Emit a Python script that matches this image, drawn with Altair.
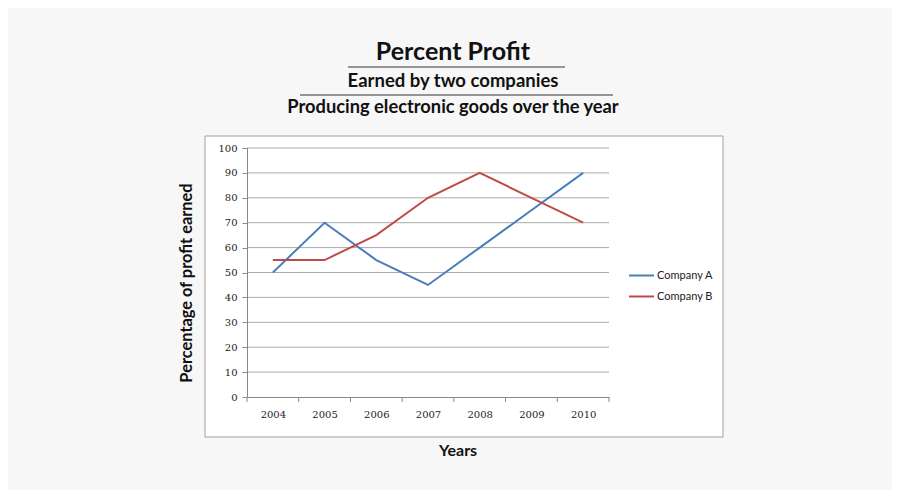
import altair as alt
import pandas as pd

years = [2004, 2005, 2006, 2007, 2008, 2009, 2010]
company_a = [50, 70, 55, 45, 60, 75, 90]
company_b = [55, 55, 65, 80, 90, 80, 70]
series_names = ["Company A", "Company B"]
series_colors = ["#4a7ebb", "#be4b48"]
y_ticks = [0, 10, 20, 30, 40, 50, 60, 70, 80, 90, 100]
title_lines = ["Percent Profit", "Earned by two companies", "Producing electronic goods over the year"]
x_title = "Years"
y_title = "Percentage of profit earned"

W, H = 362, 249

rows = []
for i, yr in enumerate(years):
    rows.append({"year": yr, "value": company_a[i], "series": series_names[0]})
    rows.append({"year": yr, "value": company_b[i], "series": series_names[1]})
df = pd.DataFrame(rows)

x_bounds = [yr - 0.5 for yr in years] + [years[-1] + 0.5]
xscale = alt.Scale(domain=[years[0] - 0.5, years[-1] + 0.5], nice=False, zero=False)
yscale = alt.Scale(domain=[0, 100], nice=False)

x_axis = alt.Axis(values=years, format="d", ticks=False, grid=False, title=None,
                  domainColor="#888888", labelFont="DejaVu Serif", labelFontSize=10,
                  labelColor="#222222", labelPadding=12, zindex=1)
y_axis = alt.Axis(values=y_ticks, grid=False, title=None, tickSize=5,
                  tickColor="#888888", domainColor="#888888",
                  labelFont="DejaVu Serif", labelFontSize=10, labelColor="#222222",
                  labelPadding=5, zindex=1)

# white box behind the plot area
box = alt.Chart(pd.DataFrame({"k": [0]})).mark_rect(
    fill="white", stroke="#a0a0a0", strokeWidth=1
).encode(
    x=alt.value(-42), x2=alt.value(476), y=alt.value(-12), y2=alt.value(289)
)

grid = alt.Chart(pd.DataFrame({"g": y_ticks[1:]})).mark_rule(
    color="#ababab", strokeWidth=1
).encode(y=alt.Y("g:Q", scale=yscale, axis=y_axis))

xticks = alt.Chart(pd.DataFrame({"b": x_bounds})).mark_rule(
    color="#888888", strokeWidth=1
).encode(x=alt.X("b:Q", scale=xscale, axis=x_axis), y=alt.value(H), y2=alt.value(H + 5))

lines = alt.Chart(df).mark_line(strokeWidth=2).encode(
    x=alt.X("year:Q", scale=xscale, axis=x_axis),
    y=alt.Y("value:Q", scale=yscale, axis=y_axis),
    color=alt.Color("series:N",
                    scale=alt.Scale(domain=series_names, range=series_colors),
                    legend=alt.Legend(title=None, orient="none", legendX=381, legendY=114,
                                      symbolType="stroke", symbolSize=625, symbolStrokeWidth=2,
                                      labelFont="Lato", labelFontSize=11, labelColor="#222222",
                                      labelOffset=2, rowPadding=2)),
)

def text_layer(s, x, y, size, weight, angle=0):
    return alt.Chart(pd.DataFrame({"t": [s]})).mark_text(
        font="Lato", fontSize=size, fontWeight=weight, color="#111111",
        align="center", baseline="middle", angle=angle
    ).encode(text="t:N", x=alt.value(x), y=alt.value(y))

t1 = text_layer(title_lines[0], 206, -96, 25, "bold")
t2 = text_layer(title_lines[1], 206, -67, 18.5, "bold")
t3 = text_layer(title_lines[2], 206, -40, 18.3, "bold")
xt = text_layer(x_title, 211, 303, 16, "bold")
yt = text_layer(y_title, -60, 135, 16.4, "bold", angle=270)

ul1 = alt.Chart(pd.DataFrame({"k": [0]})).mark_rule(color="#333333", strokeWidth=1).encode(
    x=alt.value(101), x2=alt.value(318), y=alt.value(-81))
ul2 = alt.Chart(pd.DataFrame({"k": [0]})).mark_rule(color="#333333", strokeWidth=1).encode(
    x=alt.value(53), x2=alt.value(366), y=alt.value(-53))

chart = alt.layer(box, grid, xticks, lines, t1, t2, t3, ul1, ul2, xt, yt).resolve_scale(
    x="shared", y="shared"
).properties(
    width=W, height=H,
    padding={"left": 239, "top": 140, "right": 283, "bottom": 93},
    autosize=alt.AutoSizeParams(type="none"),
).configure(background="#f7f7f7").configure_view(strokeWidth=0)

chart.save("out.html", embed_options={"renderer": "svg", "actions": False})
